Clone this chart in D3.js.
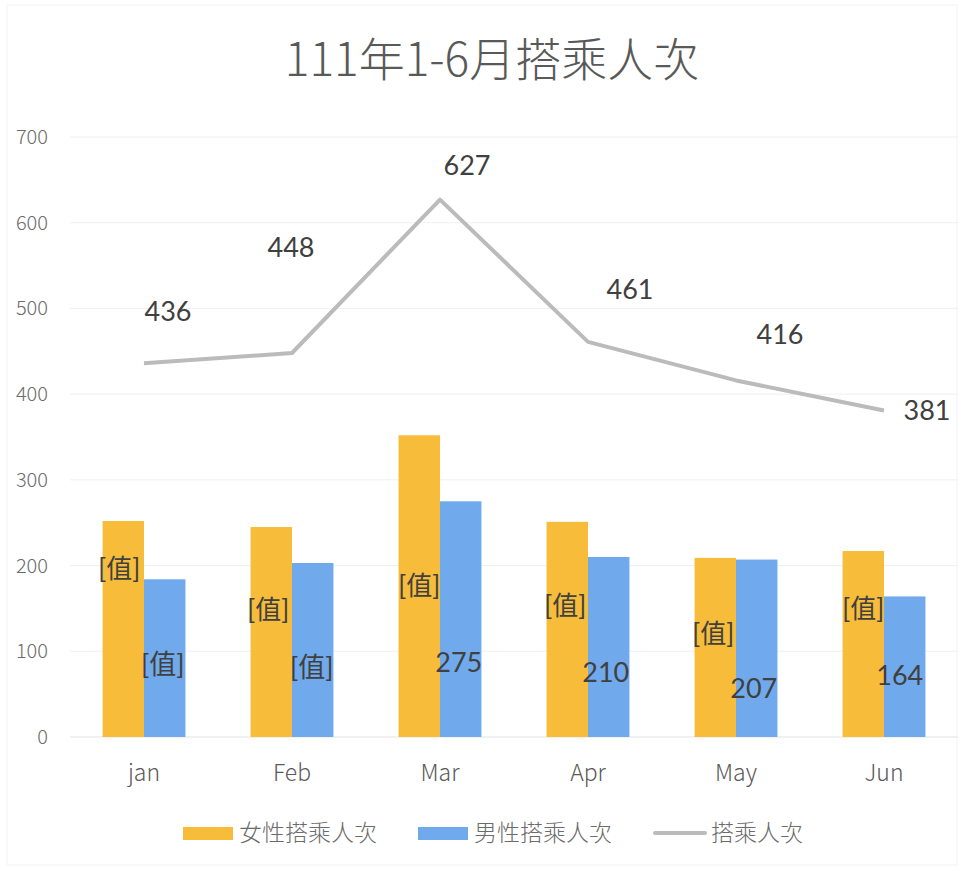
<!DOCTYPE html>
<html>
<head>
<meta charset="utf-8">
<script src="https://cdn.jsdelivr.net/npm/d3@7/dist/d3.min.js"></script>
<style>
 body {margin: 0; background: #fff;}
 text {font-family: Lato, "Noto Sans CJK TC", sans-serif;}
 .cjk {font-family: "Noto Sans CJK TC", sans-serif; font-weight: 300;}
</style>
</head>
<body>
<svg width=964 height=871></svg>
<script>

// data
var months = ['jan', 'Feb', 'Mar', 'Apr', 'May', 'Jun'];
var female = [252, 245, 352, 251, 209, 217];
var male = [184, 203, 275, 210, 207, 164];
var total = [436, 448, 627, 461, 416, 381];
var yTicks = [0, 100, 200, 300, 400, 500, 600, 700];
var seriesNames = ['女性搭乘人次', '男性搭乘人次', '搭乘人次'];

// label nudges (pixels) - labels were dragged around in the original
var femaleNudge = [[-4, -60], [-3, -22], [0, -1], [-2, -24], [-2, -14], [0, -35]];
var maleNudge = [[-2, 6], [-1, 17], [-2, 43], [-3, 25], [-3, 40], [-5, 9]];
var totalNudge = [[24, -52], [-1, -106], [27, -34], [42, -53], [44, -46], [43, 0]];

var orange = '#F7BD3A', blue = '#70AAEC', gray = '#BBBBBB';

var svg = d3.select('svg');

// faint frame
svg.append('rect').attr('x', 7).attr('y', 5).attr('width', 950).attr('height', 860)
  .attr('fill', 'none').attr('stroke', '#f3f3f3');

svg.append('text').attr('class', 'cjk')
  .attr('x', 492).attr('y', 76)
  .attr('text-anchor', 'middle')
  .style('font-size', '46px').style('fill', '#595959')
  .text('111年1-6月搭乘人次');

var x = d3.scaleBand().domain(months).range([70, 958]).paddingInner(0.44).paddingOuter(0.22);
var x1 = d3.scaleBand().domain([0, 1]).range([0, x.bandwidth()]);
var y = d3.scaleLinear().domain([0, 700]).range([737, 137]);

// grid
svg.append('g').selectAll('line').data(yTicks).enter().append('line')
  .attr('x1', 70).attr('x2', 958)
  .attr('y1', function (d) { return y(d); }).attr('y2', function (d) { return y(d); })
  .attr('stroke', function (d) { return d == 0 ? '#e2e2e2' : '#f0f0f0'; }).attr('stroke-width', 1);

// y tick labels
svg.append('g').selectAll('text').data(yTicks).enter().append('text')
  .attr('class', 'cjk')
  .attr('x', 48).attr('y', function (d) { return y(d); })
  .attr('dy', '0.35em').attr('text-anchor', 'end')
  .style('font-size', '20px').style('fill', '#6b6b6b')
  .text(function (d) { return d; });

// category labels
svg.append('g').selectAll('text').data(months).enter().append('text')
  .attr('class', 'cjk')
  .attr('x', function (d) { return x(d) + x.bandwidth() / 2; }).attr('y', 781)
  .attr('text-anchor', 'middle')
  .style('font-size', '23px').style('fill', '#595959')
  .text(function (d) { return d; });

// bars
var bars = [female, male];
var colors = [orange, blue];
bars.forEach(function (vals, s) {
  svg.append('g').selectAll('rect').data(vals).enter().append('rect')
    .attr('x', function (d, i) { return x(months[i]) + x1(s); })
    .attr('width', x1.bandwidth())
    .attr('y', function (d) { return y(d); })
    .attr('height', function (d) { return y(0) - y(d); })
    .attr('fill', colors[s]);
});

// total line
var line = d3.line()
  .x(function (d, i) { return x(months[i]) + x.bandwidth() / 2; })
  .y(function (d) { return y(d); });
svg.append('path').datum(total)
  .attr('d', line).attr('fill', 'none')
  .attr('stroke', gray).attr('stroke-width', 4).attr('stroke-linejoin', 'round');

// bar labels (female labels show placeholder text, as in the original)
svg.append('g').selectAll('text').data(female).enter().append('text')
  .attr('x', function (d, i) { return x(months[i]) + x1(0) + x1.bandwidth() / 2 + femaleNudge[i][0]; })
  .attr('y', function (d, i) { return (y(d) + y(0)) / 2 + femaleNudge[i][1]; })
  .attr('dy', '0.36em').attr('text-anchor', 'middle')
  .style('font-size', '26px').style('fill', '#404040')
  .text('[值]');

svg.append('g').selectAll('text').data(male).enter().append('text')
  .attr('x', function (d, i) { return x(months[i]) + x1(1) + x1.bandwidth() / 2 + maleNudge[i][0]; })
  .attr('y', function (d, i) { return (y(d) + y(0)) / 2 + maleNudge[i][1]; })
  .attr('dy', '0.36em').attr('text-anchor', 'middle')
  .style('font-size', '27px').style('fill', '#404040')
  .text(function (d, i) { return i < 2 ? '[值]' : d; });

svg.append('g').selectAll('text').data(total).enter().append('text')
  .attr('x', function (d, i) { return x(months[i]) + x.bandwidth() / 2 + totalNudge[i][0]; })
  .attr('y', function (d, i) { return y(d) + totalNudge[i][1]; })
  .attr('dy', '0.36em').attr('text-anchor', 'middle')
  .style('font-size', '27px').style('fill', '#404040')
  .text(function (d) { return d; });

// legend
var legX = [183, 418, 655];
var leg = svg.append('g').selectAll('g').data(seriesNames).enter().append('g')
  .attr('transform', function (d, i) { return 'translate(' + legX[i] + ',833)'; });
leg.filter(function (d, i) { return i < 2; }).append('rect')
  .attr('x', 0).attr('y', -6).attr('width', 50).attr('height', 13)
  .attr('fill', function (d, i) { return colors[i]; });
leg.filter(function (d, i) { return i == 2; }).append('line')
  .attr('x1', 0).attr('x2', 50).attr('y1', 0).attr('y2', 0)
  .attr('stroke', gray).attr('stroke-width', 4).attr('stroke-linecap', 'round');
leg.append('text').attr('class', 'cjk')
  .attr('x', 56).attr('y', 0).attr('dy', '0.36em')
  .style('font-size', '23px').style('fill', '#6b6b6b')
  .text(function (d) { return d; });

</script>
</body>
</html>
